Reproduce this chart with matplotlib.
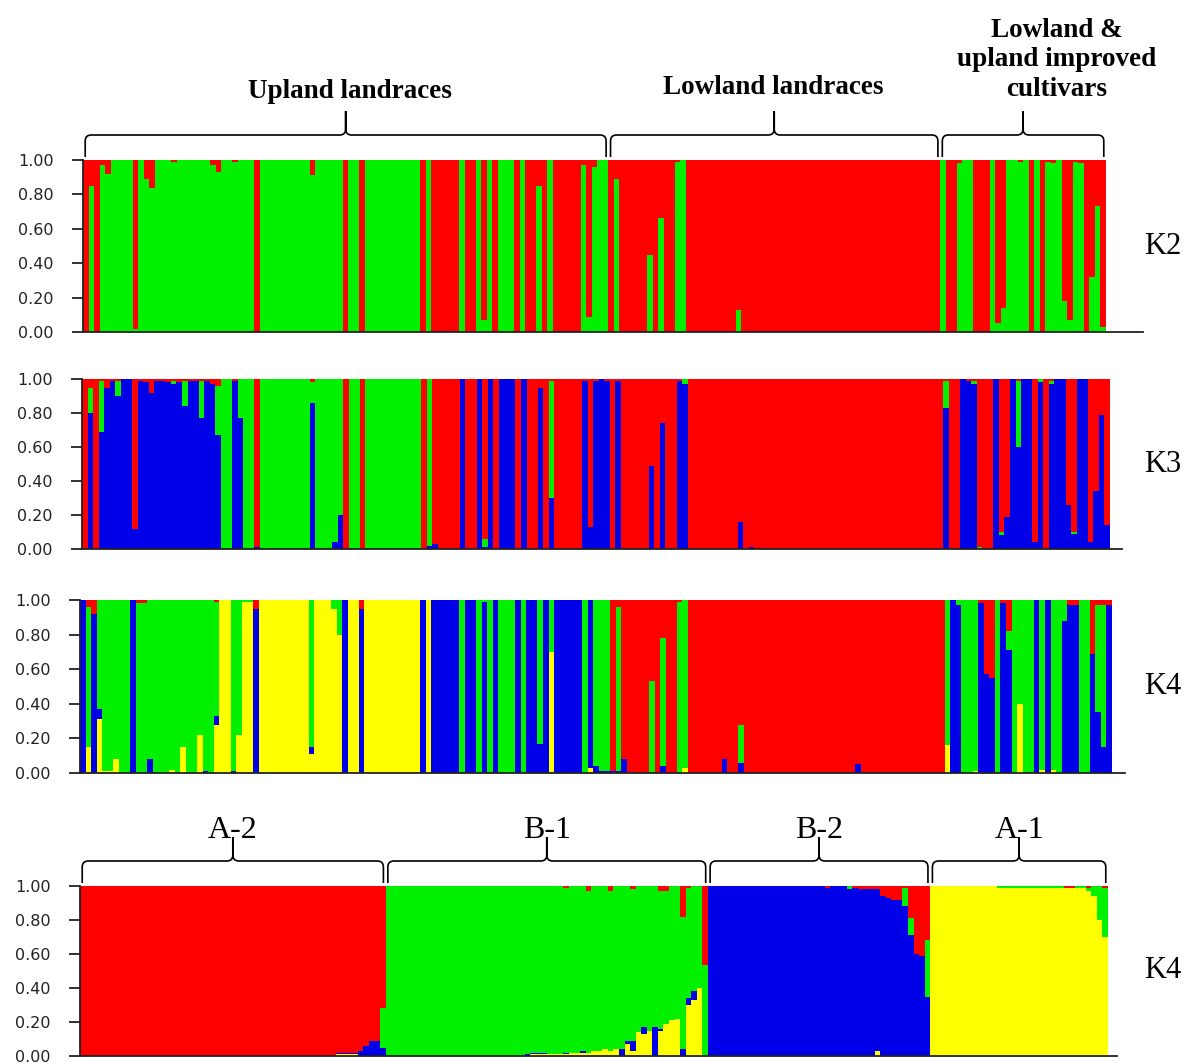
import numpy as np
import matplotlib
matplotlib.use("Agg")
import matplotlib.pyplot as plt
from matplotlib.path import Path
from matplotlib.patches import PathPatch
from matplotlib.transforms import IdentityTransform

RED, GREEN, BLUE, YELLOW = "#ff0000", "#00f000", "#0000e8", "#ffff00"

# membership coefficients, run-length coded: (individuals, q bottom-up...), red fills the rest
# K=2: (n, green)
k2_runs = [(1, 0), (1, .85), (1, 0), (1, .97), (1, .92), (4, 1), (1, .02), (1, 1), (1, .89),
           (1, .84), (3, 1), (1, .99), (6, 1), (1, .97), (1, .93), (2, 1), (1, .99), (3, 1),
           (1, 0), (9, 1), (1, .91), (5, 1), (1, 0), (2, 1), (1, 0), (10, 1),
           (1, 0), (1, 1), (5, 0), (1, 1), (2, 0), (1, 1), (1, .07), (1, 1), (1, 0), (3, 1),
           (1, 0), (1, 1), (2, 0), (1, .85), (1, 0), (1, 1), (5, 0), (1, .97), (1, .09),
           (1, .96), (2, 1),
           (1, 0), (1, .89), (5, 0), (1, .45), (1, 0), (1, .66), (2, 0), (1, .99), (1, 1),
           (9, 0), (1, .13), (36, 0),
           (1, 1), (2, 0), (1, .98), (2, 1), (3, 0), (1, 1), (1, .05), (1, .14), (2, 1),
           (1, .99), (1, 1), (1, 0), (1, 1), (1, 0), (1, .99), (1, .98), (1, 1), (1, .18),
           (1, .07), (1, .99), (1, .98), (1, 0), (1, .32), (1, .73), (1, .03)]

# K=3: (n, blue, green)
k3_runs = [(1, 0, 0), (1, .80, .15), (1, 0, 0), (1, .69, .30), (1, .95, 0), (1, .99, 0),
           (1, .90, .09), (2, 1, 0), (1, .12, 0), (1, .99, 0), (1, .98, 0), (1, .92, 0),
           (2, .99, 0), (1, .98, 0), (1, .97, .02), (1, .98, 0), (1, .84, .15), (2, .99, 0),
           (1, .77, .22), (1, .99, 0), (1, .97, 0), (1, .67, .29), (2, 0, 1), (1, .99, 0),
           (1, .77, .23), (2, 0, 1), (1, .01, 0), (9, 0, 1), (1, .86, .12), (3, 0, 1),
           (1, .04, .96), (1, .20, .80), (1, 0, 0), (2, 0, 1), (1, 0, 0), (10, 0, 1),
           (1, 0, 0), (1, .02, .98), (1, .03, 0), (4, 0, 0), (1, 1, 0), (2, 0, 0), (1, 1, 0),
           (1, .01, .05), (1, 1, 0), (1, 0, 0), (3, 1, 0), (1, 0, 0), (1, 1, 0), (2, 0, 0),
           (1, .95, 0), (1, 0, 0), (1, .30, .69), (5, 0, 0), (1, .99, 0), (1, .13, 0),
           (1, .99, 0), (1, 1, 0), (1, .99, 0),
           (1, 0, 0), (1, .99, 0), (5, 0, 0), (1, .49, 0), (1, 0, 0), (1, .74, 0), (2, 0, 0),
           (1, .99, 0), (1, .97, .03), (9, 0, 0), (1, .16, 0), (1, 0, 0), (1, .01, 0),
           (34, 0, 0),
           (1, .83, .16), (2, 0, 0), (1, 1, 0), (1, .99, 0), (1, .97, .02), (1, 0, .01),
           (2, 0, 0), (1, 1, 0), (1, .08, .02), (1, .19, 0), (1, 1, 0), (1, .60, .39),
           (2, 1, 0), (1, .04, 0), (1, .98, .02), (1, 0, 0), (1, .97, .02), (2, 1, 0),
           (1, .26, 0), (1, .09, .01), (2, 1, 0), (1, .04, 0), (1, .34, 0), (1, .79, 0),
           (1, .14, 0)]

# K=4, same order: (n, yellow, blue, green)
k4_runs = [(1, 0, 1, 0), (1, .15, 0, .81), (1, 0, .92, 0), (1, .31, .06, .63), (2, .01, 0, .99),
           (1, .08, 0, .92), (2, 0, 0, 1), (1, 0, 1, 0), (2, 0, 0, .98), (1, 0, .08, .92),
           (3, 0, 0, 1), (1, .02, 0, .98), (1, 0, 0, 1), (1, .15, 0, .85), (2, 0, 0, 1),
           (1, .22, 0, .78), (1, 0, .01, .99), (1, 0, 0, 1), (1, .28, .05, .66), (2, 1, 0, 0),
           (1, 0, .01, .99), (1, .22, 0, .78), (2, .99, 0, .01), (1, 0, .95, 0), (9, 1, 0, 0),
           (1, .11, .04, .85), (3, 1, 0, 0), (1, .95, 0, .05), (1, .80, 0, .20), (1, 0, 1, 0),
           (2, 1, 0, 0), (1, 0, .95, 0), (10, 1, 0, 0),
           (1, 0, 1, 0), (1, 1, 0, 0), (5, 0, 1, 0), (1, 0, 0, 1), (2, 0, 1, 0), (1, 0, 0, 1),
           (1, 0, .99, .01), (1, 0, 0, 1), (1, 0, 1, 0), (3, 0, 0, 1), (1, 0, 1, 0),
           (1, 0, 0, 1), (2, 0, 1, 0), (1, 0, .17, .83), (1, 0, 1, 0), (1, .70, 0, .30),
           (5, 0, 1, 0), (1, 0, 0, 1), (1, .03, .97, 0), (1, 0, .04, .96), (2, 0, .01, .99),
           (1, 0, .01, 0), (1, 0, .01, .95), (1, 0, .08, 0), (4, 0, 0, 0), (1, 0, 0, .53),
           (1, 0, 0, 0), (1, 0, .04, .74), (2, 0, 0, 0), (1, 0, 0, .99), (1, .03, 0, .97),
           (6, 0, 0, 0), (1, 0, .08, 0), (2, 0, 0, 0), (1, 0, .06, .22), (20, 0, 0, 0),
           (1, 0, .05, 0), (15, 0, 0, 0),
           (1, .16, 0, .84), (1, 0, 1, 0), (1, 0, .97, .03), (2, 0, 0, 1), (1, .01, 0, .99),
           (1, 0, .98, 0), (1, 0, .57, 0), (1, 0, .55, 0), (1, 0, 0, 1), (1, 0, .98, 0),
           (1, 0, .71, .11), (1, 0, 0, 1), (1, .40, 0, .60), (2, 0, 0, 1), (1, 0, 1, 0),
           (1, .02, 0, .98), (1, 0, 1, 0), (1, .02, 0, .98), (1, 0, 0, 1), (1, 0, .88, .12),
           (2, 0, .97, 0), (2, 0, 0, 1), (1, 0, .69, 0), (1, 0, .35, .62), (1, 0, .15, .82),
           (1, 0, .97, 0)]

# K=4 sorted by cluster: (n, yellow, blue, green)
k4_sorted_runs = [(46, 0, 0, 0), (4, .01, .01, 0), (1, 0, .03, 0), (1, 0, .06, 0), (2, 0, .09, 0),
                  (1, 0, .05, .23),
                  (25, 0, 0, 1), (1, 0, .01, .99), (3, .01, .01, .98), (3, .01, 0, .99),
                  (1, .01, .01, .97), (2, .02, 0, .98), (1, .02, .01, .97), (1, .02, 0, .95),
                  (2, .03, 0, .97), (1, .04, 0, .96), (1, .03, 0, .94), (1, .04, 0, .96),
                  (1, 0, .04, .96), (1, .07, .02, .91), (1, .03, .06, .89), (1, .14, 0, .86),
                  (1, .13, .04, .83), (1, .15, 0, .85), (1, 0, .17, .83), (1, .15, .01, .81),
                  (1, .19, 0, .78), (1, .21, 0, .79), (1, .22, 0, .78), (1, 0, .04, .78),
                  (1, .30, .04, .65), (1, .33, .05, .62), (1, .40, 0, .60), (1, 0, 0, .535),
                  (21, 0, 1, 0), (1, 0, .99, 0), (3, 0, 1, 0), (1, 0, .98, .02), (1, 0, .99, 0),
                  (3, 0, .98, 0), (1, .03, .95, 0), (1, 0, .94, 0), (1, 0, .93, 0), (2, 0, .92, 0),
                  (1, 0, .88, .11), (1, 0, .71, .10), (1, 0, .60, 0), (1, 0, .59, 0),
                  (1, 0, .35, .33),
                  (12, 1, 0, 0), (12, .99, 0, .01), (2, .99, 0, 0), (2, .99, 0, .01),
                  (1, .97, 0, .02), (1, .94, 0, .06), (1, .80, 0, .20), (1, .70, 0, .29)]

origin_names = ["Upland landraces", "Lowland landraces", "Lowland &\nupland improved\ncultivars"]
origin_sizes = [95, 60, 30]
cluster_names = ["A-2", "B-1", "B-2", "A-1"]
cluster_sizes = [55, 58, 40, 32]
y_ticks = [0.0, 0.2, 0.4, 0.6, 0.8, 1.0]


def expand(runs):
    rows = []
    for n, *q in runs:
        rows += [q] * n
    q = np.array(rows, dtype=float)
    top = np.clip(1 - q.sum(axis=1), 0, 1)
    return np.column_stack([q, top])


W, H = 1194, 1064
fig = plt.figure(figsize=(W / 100, H / 100), dpi=100)


def fx(x, y):
    return x / W, 1 - y / H


def panel(runs, colors, left, top, bottom, bar_end, axis_end, tag):
    q = expand(runs)
    n = len(q)
    ax = fig.add_axes([left / W, 1 - bottom / H, (axis_end - left) / W, (bottom - top) / H])
    x = np.arange(n)
    base = np.zeros(n)
    for j, c in enumerate(colors):
        ax.bar(x, q[:, j], width=1.0, bottom=base, align="edge", color=c, linewidth=0,
               antialiased=False)
        base += q[:, j]
    ax.set_xlim(0, n * (axis_end - left) / (bar_end - left))
    ax.set_ylim(0, 1)
    ax.set_yticks(y_ticks)
    ax.set_yticklabels(["%.2f" % t for t in y_ticks])
    ax.set_xticks([])
    for s in ("top", "right"):
        ax.spines[s].set_visible(False)
    for s in ("left", "bottom"):
        ax.spines[s].set_linewidth(1.3)
        ax.spines[s].set_color("#222222")
    ax.tick_params(axis="y", direction="out", length=8, width=1.3, pad=13,
                   labelsize=11.5, colors="#222222")
    fig.text(*fx(1163, (top + bottom) / 2), tag, family="Liberation Serif",
             fontsize=22, ha="center", va="center")
    return ax


def brace(ax, d0, d1, y_end):
    # curly brace in pixel space, ends at y_end (from top), tip pointing up
    x0 = ax.transData.transform((d0, 0))[0]
    x1 = ax.transData.transform((d1, 0))[0]
    yb = H - y_end
    yl = yb + 22
    yt = yl + 24
    xm = (x0 + x1) / 2
    r = 6
    verts = [(x0, yb), (x0, yl - r), (x0, yl), (x0 + r, yl), (xm - r, yl), (xm, yl),
             (xm, yl + r), (xm, yt), (xm, yl + r), (xm, yl), (xm + r, yl), (x1 - r, yl),
             (x1, yl), (x1, yl - r), (x1, yb)]
    codes = [Path.MOVETO, Path.LINETO, Path.CURVE3, Path.CURVE3, Path.LINETO, Path.CURVE3,
             Path.CURVE3, Path.LINETO, Path.LINETO, Path.CURVE3, Path.CURVE3, Path.LINETO,
             Path.CURVE3, Path.CURVE3, Path.LINETO]
    fig.patches.append(PathPatch(Path(verts, codes), fill=False, lw=1.2, ec="black",
                                 transform=IdentityTransform(), figure=fig))


ax1 = panel(k2_runs, [GREEN, RED], 83, 160, 332, 1106, 1143, "K2")
ax2 = panel(k3_runs, [BLUE, GREEN, RED], 82, 379, 549, 1110, 1122, "K3")
ax3 = panel(k4_runs, [YELLOW, BLUE, GREEN, RED], 80, 600, 773, 1112, 1125, "K4")
ax4 = panel(k4_sorted_runs, [YELLOW, BLUE, GREEN, RED], 80, 886, 1056, 1108, 1117, "K4")

# origin groups over the K2 panel
edges = np.cumsum([0] + origin_sizes)
for a, b in zip(edges[:-1], edges[1:]):
    brace(ax1, a + 0.4, b - 0.4, 157)
fig.text(*fx(350, 91), origin_names[0], family="Liberation Serif", weight="bold",
         fontsize=19.5, ha="center", va="center")
fig.text(*fx(773, 88), origin_names[1], family="Liberation Serif", weight="bold",
         fontsize=19.5, ha="center", va="center")
fig.text(*fx(1057, 60), origin_names[2], family="Liberation Serif", weight="bold",
         fontsize=19.5, ha="center", va="center", linespacing=1.22)

# cluster groups over the sorted panel
edges = np.cumsum([0] + cluster_sizes)
for name, a, b in zip(cluster_names, edges[:-1], edges[1:]):
    brace(ax4, a + 0.4, b - 0.4, 883)
    xm = (ax4.transData.transform((a + 0.4, 0))[0] + ax4.transData.transform((b - 0.4, 0))[0]) / 2
    fig.text(xm / W, 1 - 830 / H, name, family="Liberation Serif", fontsize=23,
             ha="center", va="center")

fig.savefig("out.png", dpi=100)
